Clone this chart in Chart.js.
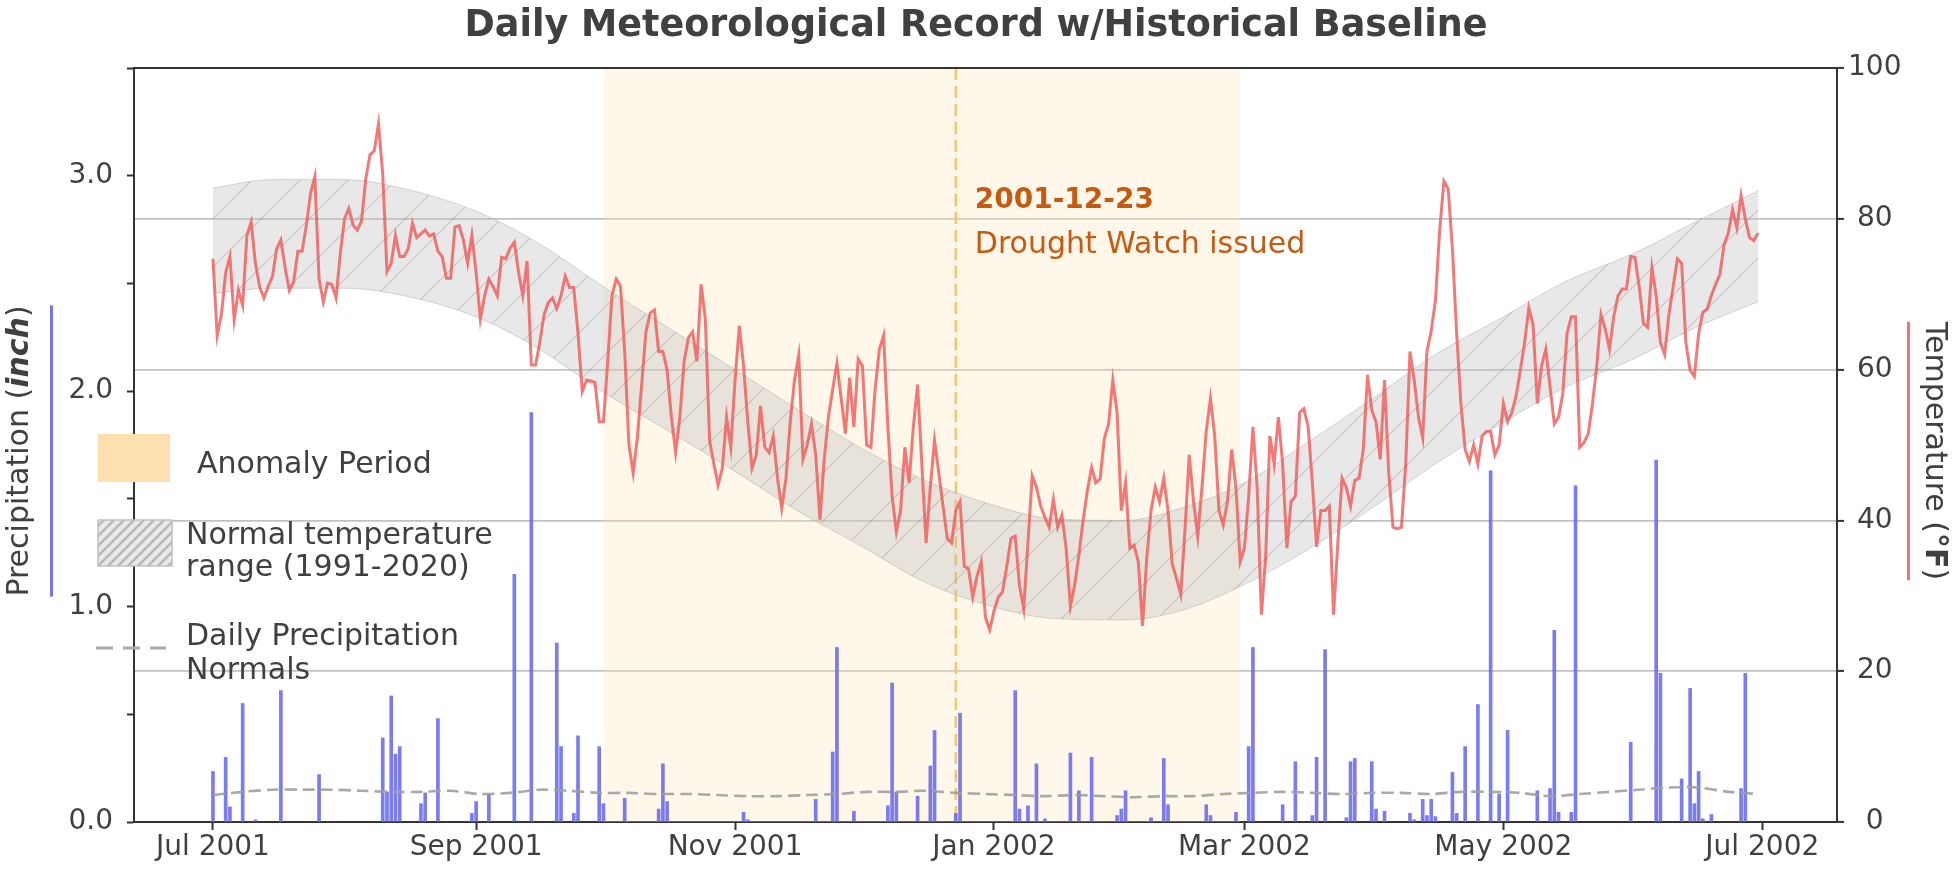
<!DOCTYPE html>
<html>
<head>
<meta charset="utf-8">
<title>Daily Meteorological Record w/Historical Baseline</title>
<script src="https://cdn.jsdelivr.net/npm/chart.js@4.4.1/dist/chart.umd.min.js"></script>
<style>
  html, body { margin: 0; padding: 0; background: #fff; }
  #wrap { width: 1952px; height: 879px; }
</style>
</head>
<body>
<div id="wrap"><canvas id="chart" width="1952" height="879"></canvas></div>
<script>
// ---- data ----
const START_DATE = '2001-07-01';

// daily temperature, one value per day from START_DATE (deg F)
const TEMP_F = [
  74.7, 64.5, 67.3, 72.9, 75.0, 66.6, 70.5, 68.5, 77.8, 79.6,
  74.1, 71.0, 69.5, 71.0, 72.3, 76.0, 77.2, 73.5, 70.5, 71.6,
  75.7, 75.7, 79.1, 83.4, 85.6, 72.0, 69.0, 71.5, 71.3, 69.5,
  75.4, 80.0, 81.4, 79.2, 78.5, 79.7, 85.3, 88.5, 89.0, 92.6,
  85.9, 73.0, 74.1, 77.8, 75.0, 75.0, 76.0, 79.4, 77.5, 78.0,
  78.5, 77.7, 78.0, 75.7, 75.0, 72.1, 72.1, 78.9, 79.1, 77.2,
  74.1, 77.8, 72.9, 66.7, 69.8, 72.0, 71.0, 69.8, 74.9, 74.7,
  76.1, 76.9, 72.9, 69.8, 74.4, 60.6, 60.6, 63.6, 67.3, 68.9,
  69.5, 68.1, 69.8, 72.4, 70.9, 70.9, 64.8, 57.1, 58.6, 58.5,
  58.3, 53.1, 53.1, 61.1, 69.8, 72.0, 71.1, 62.4, 50.0, 46.3,
  51.0, 58.0, 65.0, 67.5, 67.9, 62.4, 62.4, 59.9, 53.7, 49.0,
  53.7, 61.1, 64.2, 65.0, 61.1, 71.3, 66.7, 50.6, 47.5, 44.7,
  46.9, 53.7, 49.7, 58.6, 65.8, 60.5, 53.1, 46.9, 48.7, 55.2,
  49.7, 49.0, 51.2, 45.6, 41.6, 45.6, 53.1, 58.6, 61.9, 48.1,
  50.0, 52.8, 48.7, 40.1, 48.1, 53.7, 57.4, 60.8, 56.2, 51.5,
  58.9, 52.4, 61.4, 60.5, 50.0, 49.7, 57.4, 62.7, 64.5, 52.4,
  43.2, 38.5, 41.3, 49.7, 45.0, 52.4, 58.0, 47.5, 37.0, 44.4,
  50.6, 46.3, 41.9, 37.6, 37.0, 41.3, 42.5, 33.9, 33.6, 29.8,
  32.6, 34.5, 27.1, 25.5, 28.0, 29.8, 30.5, 33.9, 37.6, 37.9,
  31.4, 28.3, 37.0, 45.9, 44.4, 41.9, 40.4, 39.1, 42.8, 39.1,
  40.7, 36.3, 28.6, 31.4, 35.4, 40.0, 44.0, 47.0, 45.0, 45.5,
  50.9, 52.8, 58.6, 54.3, 41.3, 45.0, 36.3, 36.7, 34.5, 26.0,
  35.1, 41.3, 44.4, 42.5, 45.6, 41.3, 34.2, 32.3, 30.2, 38.8,
  48.7, 42.5, 37.9, 44.4, 51.8, 56.2, 51.2, 41.3, 39.4, 42.5,
  49.4, 44.4, 34.5, 36.3, 43.2, 52.4, 44.4, 27.5, 35.1, 51.2,
  47.5, 53.7, 47.5, 36.3, 42.5, 43.2, 54.3, 54.8, 52.5, 45.0,
  36.5, 41.3, 41.3, 41.9, 27.5, 37.0, 45.6, 44.4, 41.9, 45.3,
  45.6, 49.4, 59.3, 54.6, 53.1, 48.1, 58.6, 46.3, 39.1, 38.9,
  39.1, 47.5, 62.4, 58.6, 53.7, 50.9, 62.4, 65.1, 69.2, 78.5,
  85.0, 84.0, 76.0, 64.8, 55.5, 49.4, 47.8, 50.0, 47.5, 51.2,
  51.8, 51.8, 48.7, 50.0, 55.5, 53.1, 54.3, 56.5, 59.9, 63.6,
  68.2, 66.0, 55.5, 60.5, 62.7, 57.7, 52.8, 53.7, 56.8, 64.8,
  67.0, 67.0, 49.7, 50.3, 51.5, 55.5, 60.5, 67.3, 65.4, 62.7,
  67.0, 69.8, 70.7, 70.7, 75.0, 74.9, 71.0, 66.1, 65.6, 73.5,
  69.8, 63.6, 62.0, 67.3, 71.0, 74.7, 74.1, 63.6, 59.9, 59.1,
  64.8, 67.6, 68.0, 69.8, 71.3, 72.6, 76.6, 78.1, 81.2, 78.8,
  83.1, 80.0, 77.5, 77.1, 78.1
];

// days with measurable precipitation (inch)
const PRECIP_DATES = [
  '2001-07-01', '2001-07-04', '2001-07-05', '2001-07-08', '2001-07-11', '2001-07-17', '2001-07-26',
  '2001-08-10', '2001-08-11', '2001-08-12', '2001-08-13', '2001-08-14', '2001-08-19', '2001-08-20',
  '2001-08-23', '2001-08-31', '2001-09-01', '2001-09-04', '2001-09-10', '2001-09-14', '2001-09-20',
  '2001-09-21', '2001-09-24', '2001-09-25', '2001-09-30', '2001-10-01', '2001-10-06', '2001-10-14',
  '2001-10-15', '2001-10-16', '2001-11-03', '2001-11-04', '2001-11-20', '2001-11-24', '2001-11-25',
  '2001-11-29', '2001-12-07', '2001-12-08', '2001-12-09', '2001-12-14', '2001-12-17', '2001-12-18',
  '2001-12-23', '2001-12-24', '2002-01-06', '2002-01-07', '2002-01-09', '2002-01-11', '2002-01-13',
  '2002-01-19', '2002-01-21', '2002-01-24', '2002-01-30', '2002-01-31', '2002-02-01', '2002-02-07',
  '2002-02-10', '2002-02-11', '2002-02-20', '2002-02-21', '2002-02-27', '2002-03-02', '2002-03-03',
  '2002-03-10', '2002-03-13', '2002-03-17', '2002-03-18', '2002-03-20', '2002-03-25', '2002-03-26',
  '2002-03-27', '2002-03-31', '2002-04-01', '2002-04-03', '2002-04-09', '2002-04-10', '2002-04-12',
  '2002-04-13', '2002-04-14', '2002-04-15', '2002-04-19', '2002-04-20', '2002-04-22', '2002-04-25',
  '2002-04-28', '2002-04-30', '2002-05-02', '2002-05-09', '2002-05-12', '2002-05-13', '2002-05-14',
  '2002-05-17', '2002-05-18', '2002-05-31', '2002-06-06', '2002-06-07', '2002-06-12', '2002-06-14',
  '2002-06-15', '2002-06-16', '2002-06-17', '2002-06-19', '2002-06-26', '2002-06-27'
];
const PRECIP_IN = [
  0.235, 0.30, 0.07, 0.55, 0.01, 0.61, 0.22,
  0.39, 0.14, 0.585, 0.315, 0.35, 0.085, 0.135,
  0.48, 0.04, 0.095, 0.13, 1.15, 1.90, 0.83,
  0.35, 0.04, 0.40, 0.35, 0.085, 0.11, 0.06,
  0.27, 0.095, 0.045, 0.01, 0.105, 0.325, 0.81,
  0.05, 0.075, 0.645, 0.14, 0.12, 0.26, 0.425,
  0.04, 0.505, 0.61, 0.06, 0.075, 0.27, 0.015,
  0.32, 0.145, 0.30, 0.03, 0.06, 0.145, 0.02,
  0.295, 0.08, 0.08, 0.03, 0.045, 0.35, 0.81,
  0.08, 0.28, 0.03, 0.30, 0.80, 0.02, 0.28,
  0.295, 0.28, 0.06, 0.05, 0.04, 0.01, 0.105,
  0.03, 0.105, 0.025, 0.23, 0.04, 0.35, 0.545,
  1.63, 0.13, 0.425, 0.145, 0.155, 0.89, 0.045,
  0.045, 1.56, 0.37, 1.68, 0.69, 0.20, 0.62,
  0.085, 0.235, 0.015, 0.035, 0.155, 0.69
];

// daily precipitation normals, read weekly from START_DATE (inch)
const PRECIP_NORMAL_STEP = 7;
const PRECIP_NORMAL = [
  0.125, 0.14, 0.15, 0.15, 0.15, 0.145, 0.14, 0.14, 0.145, 0.13,
  0.135, 0.15, 0.145, 0.135, 0.135, 0.13, 0.13, 0.125, 0.12, 0.12,
  0.125, 0.13, 0.14, 0.14, 0.145, 0.135, 0.13, 0.125, 0.12, 0.125,
  0.12, 0.115, 0.12, 0.12, 0.13, 0.135, 0.14, 0.135, 0.13, 0.135,
  0.135, 0.13, 0.14, 0.14, 0.135, 0.12, 0.13, 0.14, 0.15, 0.16,
  0.16, 0.14, 0.13
];

// normal temperature range 1991-2020 (deg F)
const NORMAL_DATES = [
  '2001-07-01', '2001-07-15', '2001-08-01', '2001-08-15', '2001-09-01', '2001-09-15',
  '2001-10-01', '2001-10-15', '2001-11-01', '2001-11-15', '2001-12-01', '2001-12-15',
  '2002-01-01', '2002-01-15', '2002-02-01', '2002-02-15', '2002-03-01', '2002-03-15',
  '2002-04-01', '2002-04-15', '2002-05-01', '2002-05-15', '2002-06-01', '2002-06-15', '2002-06-30'
];
const NORMAL_HIGH = [
  84.1, 85.2, 85.2, 84.0, 81.0, 77.0, 71.0, 66.0, 60.0, 55.0, 49.5, 45.5,
  42.0, 40.2, 40.0, 41.8, 45.0, 50.0, 56.5, 62.0, 67.0, 71.5, 75.5, 79.5, 83.7
];
const NORMAL_LOW = [
  70.1, 70.8, 70.8, 69.8, 67.0, 63.0, 57.0, 52.3, 46.5, 41.5, 36.5, 32.0,
  28.5, 27.0, 26.8, 28.2, 31.5, 35.8, 42.0, 47.5, 53.0, 57.5, 61.5, 65.5, 69.0
];

const X_TICK_DATES = ['2001-07-01', '2001-09-01', '2001-11-01', '2002-01-01', '2002-03-01', '2002-05-01', '2002-07-01'];
const X_TICK_LABELS = ['Jul 2001', 'Sep 2001', 'Nov 2001', 'Jan 2002', 'Mar 2002', 'May 2002', 'Jul 2002'];

const ANOMALY_START = '2001-10-01';
const ANOMALY_END = '2002-02-28';
const DROUGHT_DATE = '2001-12-23';

// ---- styling ----
const FONT = '"DejaVu Sans", sans-serif';
const TEXT_COLOR = '#404040';
const AXIS_COLOR = '#333333';
const ANOMALY_COLOR = '#fce0b0';

const dayIndex = (s) => {
  const [y, m, d] = s.split('-').map(Number);
  const [y0, m0, d0] = START_DATE.split('-').map(Number);
  return (Date.UTC(y, m - 1, d) - Date.UTC(y0, m0 - 1, d0)) / 86400000;
};

const makeHatch = () => {
  const s = 48;
  const c = document.createElement('canvas');
  c.width = s; c.height = s;
  const g = c.getContext('2d');
  g.fillStyle = 'rgba(190,190,190,0.36)';
  g.fillRect(0, 0, s, s);
  g.strokeStyle = 'rgba(120,120,120,0.3)';
  g.lineWidth = 1.2;
  g.beginPath();
  g.moveTo(0, s); g.lineTo(s, 0);
  g.moveTo(-2, 2); g.lineTo(2, -2);
  g.moveTo(s - 2, s + 2); g.lineTo(s + 2, s - 2);
  g.stroke();
  return g.createPattern(c, 'repeat');
};

const drawRich = (ctx, parts, bx, cy, angle) => {
  ctx.save();
  ctx.translate(bx, cy);
  ctx.rotate(angle);
  let total = 0;
  parts.forEach(p => { ctx.font = p.font; p.w = ctx.measureText(p.text).width; total += p.w; });
  let x = -total / 2;
  ctx.textAlign = 'left';
  ctx.textBaseline = 'alphabetic';
  ctx.fillStyle = TEXT_COLOR;
  parts.forEach(p => { ctx.font = p.font; ctx.fillText(p.text, x, 0); x += p.w; });
  ctx.restore();
  return total;
};

const overlayPlugin = {
  id: 'overlay',
  beforeDraw(chart) {
    const { ctx } = chart;
    ctx.save();
    ctx.fillStyle = '#ffffff';
    ctx.fillRect(0, 0, chart.width, chart.height);
    ctx.restore();
  },
  beforeDatasetsDraw(chart) {
    const { ctx, chartArea: a, scales: { x } } = chart;
    ctx.save();
    const x0 = x.getPixelForValue(dayIndex(ANOMALY_START));
    const x1 = x.getPixelForValue(dayIndex(ANOMALY_END));
    ctx.fillStyle = 'rgba(252,224,176,0.27)';
    ctx.fillRect(x0, a.top, x1 - x0, a.bottom - a.top);
    const xd = x.getPixelForValue(dayIndex(DROUGHT_DATE));
    ctx.strokeStyle = '#f5c66c';
    ctx.lineWidth = 2.5;
    ctx.setLineDash([12, 6]);
    ctx.beginPath();
    ctx.moveTo(xd, a.top);
    ctx.lineTo(xd, a.bottom);
    ctx.stroke();
    ctx.restore();
  },
  afterDatasetsDraw(chart) {
    const { ctx, scales: { x } } = chart;
    const xd = x.getPixelForValue(dayIndex(DROUGHT_DATE));
    ctx.save();
    ctx.fillStyle = '#c55a11';
    ctx.textAlign = 'left';
    ctx.textBaseline = 'alphabetic';
    ctx.font = `bold 28px ${FONT}`;
    ctx.fillText(DROUGHT_DATE, xd + 19, 208);
    ctx.font = `30px ${FONT}`;
    ctx.fillText('Drought Watch issued', xd + 19, 253);

    // legend
    ctx.fillStyle = ANOMALY_COLOR;
    ctx.fillRect(98, 434, 72, 48);
    ctx.fillStyle = TEXT_COLOR;
    ctx.font = `30px ${FONT}`;
    ctx.fillText('Anomaly Period', 197, 473);

    ctx.save();
    ctx.beginPath();
    ctx.rect(98, 520, 74, 46);
    ctx.clip();
    ctx.fillStyle = '#e9e9e9';
    ctx.fill();
    ctx.strokeStyle = '#b8b8b8';
    ctx.lineWidth = 2.5;
    for (let k = -60; k < 140; k += 10) {
      ctx.beginPath();
      ctx.moveTo(98 + k, 566);
      ctx.lineTo(98 + k + 46, 520);
      ctx.stroke();
    }
    ctx.restore();
    ctx.strokeStyle = '#c0c0c0';
    ctx.lineWidth = 1.5;
    ctx.strokeRect(98, 520, 74, 46);
    ctx.fillStyle = TEXT_COLOR;
    ctx.fillText('Normal temperature', 186, 544);
    ctx.fillText('range (1991-2020)', 186, 576);

    ctx.strokeStyle = '#aaaaaa';
    ctx.lineWidth = 3;
    ctx.setLineDash([17, 10]);
    ctx.beginPath();
    ctx.moveTo(96, 648);
    ctx.lineTo(166, 648);
    ctx.stroke();
    ctx.setLineDash([]);
    ctx.fillText('Daily Precipitation', 186, 645);
    ctx.fillText('Normals', 186, 679);
    ctx.restore();
  },
  afterDraw(chart) {
    const { ctx, chartArea: a } = chart;
    ctx.save();
    // top spine
    ctx.strokeStyle = AXIS_COLOR;
    ctx.lineWidth = 2;
    ctx.beginPath();
    ctx.moveTo(a.left - 1, a.top);
    ctx.lineTo(a.right + 1, a.top);
    ctx.stroke();

    // title
    ctx.fillStyle = TEXT_COLOR;
    ctx.font = `bold 36.5px ${FONT}`;
    ctx.textAlign = 'center';
    ctx.textBaseline = 'alphabetic';
    ctx.fillText('Daily Meteorological Record w/Historical Baseline', chart.width / 2, 36);

    // axis titles with coloured markers
    const cy = 451;
    const wl = drawRich(ctx, [
      { text: 'Precipitation (', font: `30px ${FONT}` },
      { text: 'inch', font: `italic bold 30px ${FONT}` },
      { text: ')', font: `30px ${FONT}` }
    ], 28, cy, -Math.PI / 2);
    ctx.fillStyle = '#7474f2';
    ctx.fillRect(50, cy - wl / 2, 3, wl);

    const wr = drawRich(ctx, [
      { text: 'Temperature (', font: `30px ${FONT}` },
      { text: '°F', font: `bold 30px ${FONT}` },
      { text: ')', font: `30px ${FONT}` }
    ], 1926, cy, Math.PI / 2);
    ctx.fillStyle = '#f07474';
    ctx.fillRect(1907, cy - wr / 2, 3, wr);
    ctx.restore();
  }
};

const tempData = TEMP_F.map((t, i) => ({ x: i, y: t }));
const precipData = PRECIP_DATES.map((d, i) => ({ x: dayIndex(d), y: PRECIP_IN[i] }));
const normalPrecipData = PRECIP_NORMAL.map((p, i) => ({ x: Math.min(i * PRECIP_NORMAL_STEP, TEMP_F.length - 1), y: p }));
const highData = NORMAL_DATES.map((d, i) => ({ x: dayIndex(d), y: NORMAL_HIGH[i] }));
const lowData = NORMAL_DATES.map((d, i) => ({ x: dayIndex(d), y: NORMAL_LOW[i] }));

const tickFont = { family: FONT, size: 28 };

const chart = new Chart(document.getElementById('chart'), {
  type: 'line',
  data: {
    datasets: [
      {
        label: 'Normal high',
        data: highData,
        yAxisID: 'yT',
        borderColor: 'rgba(175,175,175,0.5)',
        borderWidth: 1,
        pointRadius: 0,
        tension: 0.4,
        cubicInterpolationMode: 'monotone',
        fill: false,
        order: 5
      },
      {
        label: 'Normal temperature range (1991-2020)',
        data: lowData,
        yAxisID: 'yT',
        borderColor: 'rgba(175,175,175,0.5)',
        borderWidth: 1,
        pointRadius: 0,
        tension: 0.4,
        cubicInterpolationMode: 'monotone',
        fill: '-1',
        backgroundColor: makeHatch(),
        order: 5
      },
      {
        type: 'bar',
        label: 'Precipitation',
        data: precipData,
        yAxisID: 'yP',
        backgroundColor: 'rgba(100,100,240,0.85)',
        barThickness: 3,
        order: 4
      },
      {
        label: 'Daily Precipitation Normals',
        data: normalPrecipData,
        yAxisID: 'yP',
        borderColor: 'rgba(160,160,160,0.9)',
        borderWidth: 2.6,
        borderDash: [12, 6],
        pointRadius: 0,
        tension: 0.3,
        fill: false,
        order: 3
      },
      {
        label: 'Temperature',
        data: tempData,
        yAxisID: 'yT',
        borderColor: 'rgba(240,88,88,0.8)',
        borderWidth: 3,
        pointRadius: 0,
        tension: 0,
        fill: false,
        order: 1
      }
    ]
  },
  options: {
    responsive: false,
    devicePixelRatio: 1,
    animation: false,
    layout: { padding: { top: 68, left: 0, right: 0, bottom: 0 }, autoPadding: false },
    plugins: {
      legend: { display: false },
      title: { display: false },
      tooltip: { enabled: false }
    },
    scales: {
      x: {
        type: 'linear',
        min: -18.6,
        max: 382.6,
        offset: false,
        afterBuildTicks: (s) => { s.ticks = X_TICK_DATES.map(d => ({ value: dayIndex(d) })); },
        afterFit: (s) => { s.height = 57; },
        ticks: {
          callback: (v) => X_TICK_LABELS[X_TICK_DATES.findIndex(d => dayIndex(d) === v)],
          font: tickFont,
          color: TEXT_COLOR,
          maxRotation: 0,
          autoSkip: false,
          padding: 1
        },
        grid: { offset: false, drawOnChartArea: false, drawTicks: true, tickLength: 8, tickWidth: 2, tickColor: AXIS_COLOR },
        border: { display: true, color: AXIS_COLOR, width: 2 }
      },
      yP: {
        position: 'left',
        min: 0,
        max: 3.5,
        afterFit: (s) => { s.width = 134; },
        ticks: {
          stepSize: 0.5,
          callback: (v) => (Math.abs(v % 1) < 1e-9 ? v.toFixed(1) : ''),
          font: tickFont,
          color: TEXT_COLOR,
          padding: 14,
          autoSkip: false
        },
        grid: { drawOnChartArea: false, drawTicks: true, tickLength: 7, tickWidth: 2, tickColor: AXIS_COLOR },
        border: { display: true, color: AXIS_COLOR, width: 2 }
      },
      yT: {
        position: 'right',
        min: 0,
        max: 100,
        afterFit: (s) => { s.width = 115; },
        ticks: {
          stepSize: 20,
          crossAlign: 'center',
          font: tickFont,
          color: TEXT_COLOR,
          padding: 4
        },
        grid: {
          color: (c) => (c.tick && c.tick.value > 0 && c.tick.value < 100 ? '#c2c2c2' : 'rgba(0,0,0,0)'),
          lineWidth: 1.8,
          drawTicks: true,
          tickLength: 7,
          tickWidth: 2,
          tickColor: AXIS_COLOR
        },
        border: { display: true, color: AXIS_COLOR, width: 2 }
      }
    }
  },
  plugins: [overlayPlugin]
});
</script>
</body>
</html>
